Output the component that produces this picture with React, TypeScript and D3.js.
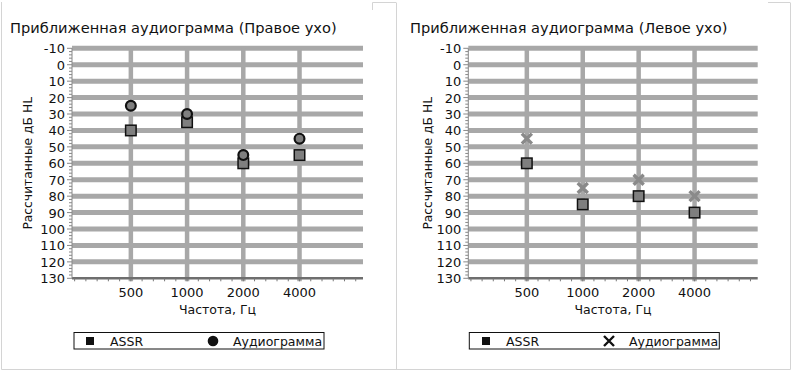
import React, { useEffect, useRef } from 'react';
import * as d3 from 'd3';

const freqs = [500, 1000, 2000, 4000];
const freqLabels = ['500', '1000', '2000', '4000'];
const yTicks = [-10, 0, 10, 20, 30, 40, 50, 60, 70, 80, 90, 100, 110, 120, 130];

const rightAssr = [40, 35, 60, 55];
const rightAudio = [25, 30, 55, 45];
const leftAssr = [60, 85, 80, 90];
const leftAudio = [45, 75, 70, 80];

const FONT = "'DejaVu Sans', Verdana, sans-serif";
const GRID = '#a8a8a8';

type PanelOpts = {
  ox: number;
  x0: number;
  x1: number;
  title: string;
  assr: number[];
  audio: number[];
  audioMark: 'circle' | 'cross';
  legend: { x0: number; x1: number; m1: number; t1: number; m2: number; t2: number };
};

function drawPanel(svg: d3.Selection<SVGSVGElement, unknown, null, undefined>, o: PanelOpts) {
  const g = svg.append('g');
  const x = d3.scaleLog().base(2).domain([242, 8750]).range([o.x0, o.x1]);
  const y = d3.scaleLinear().domain([-10, 130]).range([48.3, 278.3]);

  g.append('text')
    .attr('x', o.ox + 10).attr('y', 33)
    .style('font-family', FONT).style('font-size', '14.6px').style('fill', '#111')
    .text(o.title);

  // horizontal gridlines
  g.selectAll('.hg')
    .data(yTicks.slice(0, -1))
    .enter().append('line')
    .attr('x1', o.x0).attr('x2', o.x1)
    .attr('y1', d => y(d)).attr('y2', d => y(d))
    .attr('stroke', GRID).attr('stroke-width', 5);

  // vertical gridlines
  g.selectAll('.vg')
    .data(freqs)
    .enter().append('line')
    .attr('x1', d => x(d)).attr('x2', d => x(d))
    .attr('y1', y(-10)).attr('y2', y(130) + 3)
    .attr('stroke', GRID).attr('stroke-width', 4.5);

  // bottom axis line
  g.append('line')
    .attr('x1', o.x0).attr('x2', o.x1)
    .attr('y1', y(130)).attr('y2', y(130))
    .attr('stroke', '#6e6e6e').attr('stroke-width', 2.5);

  // minor x ticks, five per octave
  const lo = Math.log2(242), hi = Math.log2(8750);
  const minorX: number[] = [];
  for (let k = Math.ceil((lo - Math.log2(500)) * 5); Math.log2(500) + k / 5 <= hi; k++) {
    minorX.push(500 * Math.pow(2, k / 5));
  }
  g.selectAll('.mx')
    .data(minorX)
    .enter().append('line')
    .attr('x1', d => x(d)).attr('x2', d => x(d))
    .attr('y1', y(130)).attr('y2', y(130) + 3)
    .attr('stroke', '#777').attr('stroke-width', 1);

  // y axis
  g.append('line')
    .attr('x1', o.x0).attr('x2', o.x0)
    .attr('y1', y(-10)).attr('y2', y(130))
    .attr('stroke', '#888').attr('stroke-width', 1);
  const minorY = d3.range(-10, 131, 2);
  g.selectAll('.my')
    .data(minorY)
    .enter().append('line')
    .attr('x1', d => (d % 10 === 0 ? o.x0 - 5 : o.x0 - 3)).attr('x2', o.x0)
    .attr('y1', d => y(d)).attr('y2', d => y(d))
    .attr('stroke', '#888').attr('stroke-width', 1);

  g.selectAll('.yl')
    .data(yTicks)
    .enter().append('text')
    .attr('x', o.x0 - 7).attr('y', d => y(d) + 5)
    .attr('text-anchor', 'end')
    .style('font-family', FONT).style('font-size', '13px').style('fill', '#111')
    .text(d => String(d));

  g.selectAll('.xl')
    .data(freqs)
    .enter().append('text')
    .attr('x', d => x(d)).attr('y', 297)
    .attr('text-anchor', 'middle')
    .style('font-family', FONT).style('font-size', '13px').style('fill', '#111')
    .text((d, i) => freqLabels[i]);

  g.append('text')
    .attr('x', (o.x0 + o.x1) / 2).attr('y', 314)
    .attr('text-anchor', 'middle')
    .style('font-family', FONT).style('font-size', '12.5px').style('fill', '#111')
    .text('Частота, Гц');

  g.append('text')
    .attr('transform', `translate(${o.ox + 31.5},${(y(-10) + y(130)) / 2}) rotate(-90)`)
    .attr('text-anchor', 'middle')
    .style('font-family', FONT).style('font-size', '12.3px').style('fill', '#111')
    .text('Рассчитанные дБ HL');

  // ASSR squares
  const s = 10.5;
  g.selectAll('.sq')
    .data(freqs)
    .enter().append('rect')
    .attr('x', d => x(d) - s / 2)
    .attr('y', (d, i) => y(o.assr[i]) - s / 2)
    .attr('width', s).attr('height', s)
    .attr('fill', '#7f7f7f').attr('stroke', '#111').attr('stroke-width', 1.5);

  if (o.audioMark === 'circle') {
    g.selectAll('.ci')
      .data(freqs)
      .enter().append('circle')
      .attr('cx', d => x(d))
      .attr('cy', (d, i) => y(o.audio[i]))
      .attr('r', 4.9)
      .attr('fill', '#7f7f7f').attr('stroke', '#111').attr('stroke-width', 2.2);
  } else {
    const c = 5;
    g.selectAll('.cr')
      .data(freqs)
      .enter().append('path')
      .attr('d', (d, i) => {
        const cx = x(d), cy = y(o.audio[i]);
        return `M${cx - c},${cy - c}L${cx + c},${cy + c}M${cx - c},${cy + c}L${cx + c},${cy - c}`;
      })
      .attr('stroke', '#8a8a8a').attr('stroke-width', 3.4).attr('fill', 'none');
  }

  // legend
  const L = o.legend;
  g.append('rect')
    .attr('x', L.x0).attr('y', 332.5).attr('width', L.x1 - L.x0).attr('height', 16.5)
    .attr('fill', '#fff').attr('stroke', '#111').attr('stroke-width', 1);
  g.append('rect')
    .attr('x', L.m1 - 4).attr('y', 337).attr('width', 8).attr('height', 8)
    .attr('fill', '#111');
  g.append('text')
    .attr('x', L.t1).attr('y', 345.5)
    .style('font-family', FONT).style('font-size', '12.5px').style('fill', '#111')
    .text('ASSR');
  if (o.audioMark === 'circle') {
    g.append('circle').attr('cx', L.m2).attr('cy', 341).attr('r', 5.3).attr('fill', '#111');
  } else {
    const c = 5;
    g.append('path')
      .attr('d', `M${L.m2 - c},${341 - c}L${L.m2 + c},${341 + c}M${L.m2 - c},${341 + c}L${L.m2 + c},${341 - c}`)
      .attr('stroke', '#111').attr('stroke-width', 2.4).attr('fill', 'none');
  }
  g.append('text')
    .attr('x', L.t2).attr('y', 345.5)
    .style('font-family', FONT).style('font-size', '12.5px').style('fill', '#111')
    .text('Аудиограмма');
}

export default function App() {
  const ref = useRef<SVGSVGElement>(null);

  useEffect(() => {
    if (!ref.current) return;
    const svg = d3.select(ref.current);
    svg.selectAll('*').remove();

    svg.append('rect').attr('width', 793).attr('height', 372).attr('fill', '#fff');

    // panel frames
    const frame = '#d4d4d4';
    svg.append('path')
      .attr('d', 'M1.5,2V369.5H790.5V3M396.5,3V369.5M372.5,10V2.5H396.5M768,2.5H790.5')
      .attr('stroke', frame).attr('stroke-width', 1).attr('fill', 'none');

    drawPanel(svg, {
      ox: 0, x0: 72, x1: 363,
      title: 'Приближенная аудиограмма (Правое ухо)',
      assr: rightAssr, audio: rightAudio, audioMark: 'circle',
      legend: { x0: 74, x1: 324, m1: 90, t1: 110, m2: 213, t2: 233 },
    });
    drawPanel(svg, {
      ox: 400, x0: 468.3, x1: 757.7,
      title: 'Приближенная аудиограмма (Левое ухо)',
      assr: leftAssr, audio: leftAudio, audioMark: 'cross',
      legend: { x0: 469.3, x1: 719.3, m1: 486, t1: 506, m2: 609, t2: 629 },
    });
  }, []);

  return (
    <svg ref={ref} width={793} height={372}
      style={{ position: 'absolute', left: 0, top: 0, display: 'block' }} />
  );
}
